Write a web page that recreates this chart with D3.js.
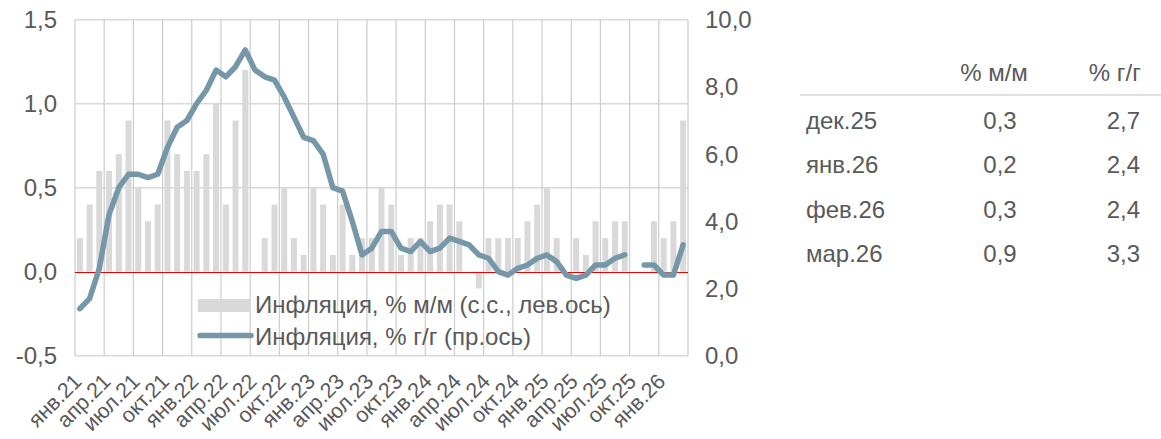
<!DOCTYPE html>
<html>
<head>
<meta charset="utf-8">
<script src="https://cdn.jsdelivr.net/npm/d3@7"></script>
<style>
  body { margin: 0; background: #fff; }
  svg text { font-family: "Liberation Sans", Arial, sans-serif; fill: #595959; }
</style>
</head>
<body>
<div id="chart"></div>
<script>
// months: янв.21 .. мар.26
var monthNames = ["янв", "фев", "мар", "апр", "май", "июн", "июл", "авг", "сен", "окт", "ноя", "дек"];
var years = ["21", "22", "23", "24", "25", "26"];

// inflation, % m/m (s.a.), left axis
var mom = [
  0.2, 0.4, 0.6, 0.6, 0.7, 0.9, 0.5, 0.3, 0.4, 0.9, 0.7, 0.6,
  0.6, 0.7, 1.0, 0.4, 0.9, 1.2, 0.0, 0.2, 0.4, 0.5, 0.2, 0.1,
  0.5, 0.4, 0.1, 0.4, 0.1, 0.2, 0.2, 0.5, 0.4, 0.1, 0.2, 0.2,
  0.3, 0.4, 0.4, 0.3, 0.0, -0.1, 0.2, 0.2, 0.2, 0.2, 0.3, 0.4,
  0.5, 0.2, 0.0, 0.2, 0.1, 0.3, 0.2, 0.3, 0.3, null, null, 0.3,
  0.2, 0.3, 0.9
];

// inflation, % y/y, right axis
var yoy = [
  1.4, 1.7, 2.6, 4.2, 5.0, 5.4, 5.4, 5.3, 5.4, 6.2, 6.8, 7.0,
  7.5, 7.9, 8.5, 8.3, 8.6, 9.1, 8.5, 8.3, 8.2, 7.7, 7.1, 6.5,
  6.4, 6.0, 5.0, 4.9, 4.0, 3.0, 3.2, 3.7, 3.7, 3.2, 3.1, 3.4,
  3.1, 3.2, 3.5, 3.4, 3.3, 3.0, 2.9, 2.5, 2.4, 2.6, 2.7, 2.9,
  3.0, 2.8, 2.4, 2.3, 2.4, 2.7, 2.7, 2.9, 3.0, null, 2.7, 2.7,
  2.4, 2.4, 3.3
];

var leftTicks = [-0.5, 0, 0.5, 1.0, 1.5];
var rightTicks = [0, 2, 4, 6, 8, 10];

var tableHead = ["% м/м", "% г/г"];
var tableMonths = ["дек.25", "янв.26", "фев.26", "мар.26"];
var tableMom = ["0,3", "0,2", "0,3", "0,9"];
var tableYoy = ["2,7", "2,4", "2,4", "3,3"];

var legendLabels = ["Инфляция, % м/м (с.с., лев.ось)", "Инфляция, % г/г (пр.ось)"];

var months = [];
years.forEach(function(y) {
  monthNames.forEach(function(m) { months.push(m + "." + y); });
});
months = months.slice(0, mom.length);

var width = 1161, height = 439;
var plot = {left: 75, right: 688, top: 19.7, bottom: 355.7};

var svg = d3.select("#chart").append("svg")
  .attr("width", width)
  .attr("height", height);

var x = d3.scaleBand()
  .domain(months)
  .range([plot.left, plot.right])
  .padding(0);

var yL = d3.scaleLinear().domain([-0.5, 1.5]).range([plot.bottom, plot.top]);
var yR = d3.scaleLinear().domain([0, 10]).range([plot.bottom, plot.top]);

var fmt = function(v) { return d3.format(".1f")(v).replace(".", ",").replace("−", "-"); };

// horizontal grid
svg.append("g").selectAll("line")
  .data(leftTicks.filter(function(d) { return d !== 0; }))
  .enter().append("line")
  .attr("x1", plot.left).attr("x2", plot.right)
  .attr("y1", function(d) { return yL(d); })
  .attr("y2", function(d) { return yL(d); })
  .attr("stroke", "#d9d9d9")
  .attr("stroke-width", 1.5);

// vertical grid, every quarter
var vlines = months.filter(function(d, i) { return i % 3 === 0; }).map(function(d) { return x(d); });
vlines.push(plot.right);
svg.append("g").selectAll("line")
  .data(vlines)
  .enter().append("line")
  .attr("x1", function(d) { return d; })
  .attr("x2", function(d) { return d; })
  .attr("y1", plot.top).attr("y2", plot.bottom)
  .attr("stroke", "#cccccc")
  .attr("stroke-width", 1.2);

// bars
var barW = 6;
svg.append("g").selectAll("rect")
  .data(mom.map(function(v, i) { return {m: months[i], v: v}; }).filter(function(d) { return d.v !== null; }))
  .enter().append("rect")
  .attr("x", function(d) { return x(d.m) + x.bandwidth() / 2 - barW / 2; })
  .attr("width", barW)
  .attr("y", function(d) { return yL(Math.max(0, d.v)); })
  .attr("height", function(d) { return Math.abs(yL(d.v) - yL(0)); })
  .attr("fill", "#d9d9d9");

// zero line
var y0 = Math.round(yL(0)) + 0.5;
svg.append("line")
  .attr("x1", plot.left).attr("x2", plot.right)
  .attr("y1", y0).attr("y2", y0)
  .attr("stroke", "#e60000")
  .attr("stroke-width", 1);

// y/y line
var line = d3.line()
  .defined(function(d) { return d.v !== null; })
  .x(function(d) { return x(d.m) + x.bandwidth() / 2; })
  .y(function(d) { return yR(d.v); });

svg.append("path")
  .datum(yoy.map(function(v, i) { return {m: months[i], v: v}; }))
  .attr("d", line)
  .attr("fill", "none")
  .attr("stroke", "#7597a8")
  .attr("stroke-width", 5.5)
  .attr("stroke-linejoin", "round")
  .attr("stroke-linecap", "round");

// left axis labels
svg.append("g").selectAll("text")
  .data(leftTicks)
  .enter().append("text")
  .attr("x", 57)
  .attr("y", function(d) { return yL(d); })
  .attr("dy", "0.35em")
  .attr("text-anchor", "end")
  .style("font-size", "24px")
  .text(fmt);

// right axis labels
svg.append("g").selectAll("text")
  .data(rightTicks)
  .enter().append("text")
  .attr("x", 705)
  .attr("y", function(d) { return yR(d); })
  .attr("dy", "0.35em")
  .attr("text-anchor", "start")
  .style("font-size", "24px")
  .text(fmt);

// x labels
svg.append("g").selectAll("text")
  .data(months.filter(function(d, i) { return i % 3 === 0; }))
  .enter().append("text")
  .attr("transform", function(d) {
    return "translate(" + (x(d) + x.bandwidth() / 2 + 3) + "," + (plot.bottom + 27) + ") rotate(-45)";
  })
  .attr("text-anchor", "end")
  .style("font-size", "21.5px")
  .text(function(d) { return d; });

// legend
var lg = svg.append("g");
lg.append("rect")
  .attr("x", 198).attr("y", 299)
  .attr("width", 52).attr("height", 13)
  .attr("fill", "#d9d9d9");
lg.append("line")
  .attr("x1", 200).attr("x2", 251)
  .attr("y1", 335.5).attr("y2", 335.5)
  .attr("stroke", "#7597a8")
  .attr("stroke-width", 5.5)
  .attr("stroke-linecap", "round");
lg.selectAll("text")
  .data(legendLabels)
  .enter().append("text")
  .attr("x", 255)
  .attr("y", function(d, i) { return 305 + i * 32; })
  .attr("dy", "0.35em")
  .style("font-size", "24px")
  .text(function(d) { return d; });

// table
var tb = svg.append("g");
tb.append("text").attr("x", 994).attr("y", 73).attr("dy", "0.35em")
  .attr("text-anchor", "middle").style("font-size", "24px").text(tableHead[0]);
tb.append("text").attr("x", 1141).attr("y", 73).attr("dy", "0.35em")
  .attr("text-anchor", "end").style("font-size", "24px").text(tableHead[1]);
tb.append("line")
  .attr("x1", 800).attr("x2", 1161)
  .attr("y1", 95).attr("y2", 95)
  .attr("stroke", "#bfbfbf").attr("stroke-width", 1);

var rowY = d3.scaleBand().domain(tableMonths).range([98, 276]);
tableMonths.forEach(function(m, i) {
  var cy = rowY(m) + rowY.bandwidth() / 2;
  tb.append("text").attr("x", 806).attr("y", cy).attr("dy", "0.35em")
    .style("font-size", "24px").text(m);
  tb.append("text").attr("x", 1000).attr("y", cy).attr("dy", "0.35em")
    .attr("text-anchor", "middle").style("font-size", "24px").text(tableMom[i]);
  tb.append("text").attr("x", 1140).attr("y", cy).attr("dy", "0.35em")
    .attr("text-anchor", "end").style("font-size", "24px").text(tableYoy[i]);
});
</script>
</body>
</html>
